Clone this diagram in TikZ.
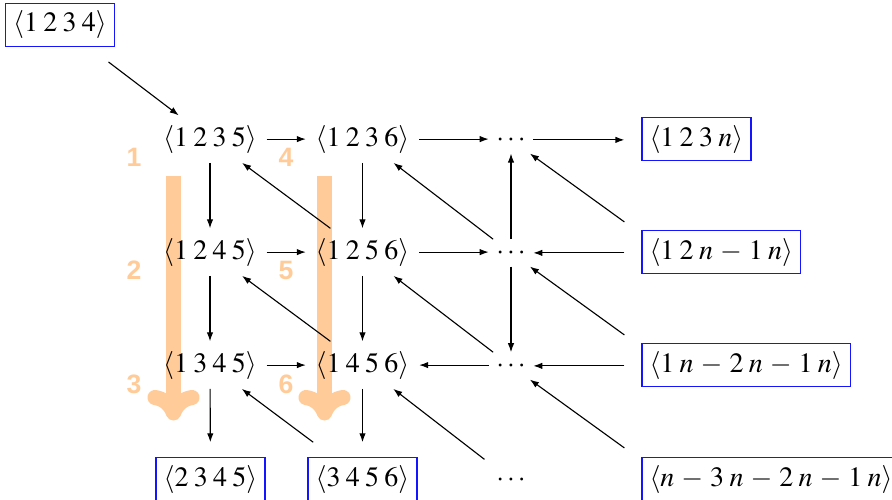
\documentclass[tikz,border=0pt]{standalone}
\usepackage[no-math]{fontspec}
\usepackage{mathptmx}
\newfontfamily\tagfont{Liberation Sans}
\usetikzlibrary{arrows.meta}

\definecolor{framecol}{RGB}{20,20,255}
\newcommand{\dgap}{\mskip3.4mu}
\tikzset{
  arr/.style={-{Latex[length=3.2pt,width=2.3pt]}, line width=0.4pt},
  cell/.style={anchor=base, inner sep=3.33pt},
  dotcell/.style={anchor=base, inner sep=2.5pt},
  framed/.style={anchor=base, draw=framecol, text=black, line width=0.55pt, inner sep=2.7pt, outer sep=5.5pt},
  framedw/.style={anchor=base west, draw=framecol, text=black, line width=0.55pt, inner sep=2.7pt, outer sep=0pt},
  port/.style={inner sep=0pt, minimum width=29.3pt, minimum height=26pt},
  flow/.style={line width=5.4pt, draw=orange!40, line cap=butt},
  flowhead/.style={line width=5.4pt, draw=orange!40, line cap=round, line join=round},
  tag/.style={text=orange!40, font=\tagfont\bfseries\fontsize{9.5}{10}\selectfont}
}

\begin{document}
\begin{tikzpicture}[x=0.357pt, y=-0.357pt]
\medmuskip=4.5mu plus 2mu minus 2mu
\useasboundingbox (0,0) rectangle (892,500);

% order indicators in the first two columns
\foreach \cx in {173.5,324.5}{
  \draw[flow] (\cx,176) -- (\cx,410);
  \draw[flowhead] (\cx-18.5,397.5) .. controls (\cx-9,399) and (\cx-3,405) .. (\cx,413)
                  .. controls (\cx+3,405) and (\cx+9,399) .. (\cx+18.5,397.5);
}
\node[tag] (t1) at (134,157) {1};
\node[tag] (t2) at (134,270) {2};
\node[tag] (t3) at (134,384) {3};
\node[tag] (t4) at (286,157) {4};
\node[tag] (t5) at (286,270) {5};
\node[tag] (t6) at (286,384) {6};

% starting tuple
\node[framed] (n00) at (60,32) {$\langle 1\dgap 2\dgap 3\dgap 4\rangle$};

% grid of tuples
\node[cell] (n11) at (210,146) {$\langle 1\dgap 2\dgap 3\dgap 5\rangle$};
\node[cell] (n12) at (362.5,146) {$\langle 1\dgap 2\dgap 3\dgap 6\rangle$};
\node[dotcell] (d1) at (511,146) {$\cdots$};
\node[cell] (n21) at (210,259) {$\langle 1\dgap 2\dgap 4\dgap 5\rangle$};
\node[cell] (n22) at (362.5,259) {$\langle 1\dgap 2\dgap 5\dgap 6\rangle$};
\node[dotcell] (d2) at (511,259) {$\cdots$};
\node[cell] (n31) at (210,372) {$\langle 1\dgap 3\dgap 4\dgap 5\rangle$};
\node[cell] (n32) at (362.5,372) {$\langle 1\dgap 4\dgap 5\dgap 6\rangle$};
\node[dotcell] (d3) at (511,372) {$\cdots$};
\node[framed] (n41) at (210.5,486) {$\langle 2\dgap 3\dgap 4\dgap 5\rangle$};
\node[framed] (n42) at (362.5,486) {$\langle 3\dgap 4\dgap 5\dgap 6\rangle$};
\node[dotcell] (d4) at (511,486) {$\cdots$};

% last column, left aligned
\node[framedw] (b1) at (642,146) {$\langle 1\dgap 2\dgap 3\dgap n\rangle$};
\node[framedw] (b2) at (642,259) {$\langle 1\dgap 2\dgap n-1\dgap n\rangle$};
\node[framedw] (b3) at (642,372) {$\langle 1\dgap n-2\dgap n-1\dgap n\rangle$};
\node[framedw] (b4) at (642,486) {$\langle n-3\dgap n-2\dgap n-1\dgap n\rangle$};
\node[port] (q1) at (666,138) {};
\node[port] (q2) at (666,252) {};
\node[port] (q3) at (666,365) {};
\node[port] (q4) at (666,478) {};

% horizontal connectors
\draw[arr] (n11) -- (n12);
\draw[arr] (n12) -- (n12 -| d1.west);
\draw[arr] (d1) -- (d1 -| q1.west);
\draw[arr] (n21) -- (n22);
\draw[arr] (n22) -- (n22 -| d2.west);
\draw[arr] (d2 -| q2.west) -- (d2);
\draw[arr] (n31) -- (n32);
\draw[arr] (n32 -| d3.west) -- (n32);
\draw[arr] (d3 -| q3.west) -- (d3);

% vertical connectors
\draw[arr] (n11) -- (n21);
\draw[arr] (n21) -- (n31);
\draw[arr] (n31) -- (n41);
\draw[arr] (n12) -- (n22);
\draw[arr] (n22) -- (n32);
\draw[arr] (n32) -- (n42);
\draw[arr] (d2) -- (d1);
\draw[arr] (d2) -- (d3);

% diagonal connectors
\draw[arr] (n00) -- (n11);
\draw[arr] (n22) -- (n11);
\draw[arr] (n32) -- (n21);
\draw[arr] (n42) -- (n31);
\draw[arr] (d2) -- (n12);
\draw[arr] (d3) -- (n22);
\draw[arr, shorten <=4pt] (d4) -- (n32);
\draw[arr] (q2) -- (d1);
\draw[arr] (q3) -- (d2);
\draw[arr] (q4) -- (d3);
\end{tikzpicture}
\end{document}
